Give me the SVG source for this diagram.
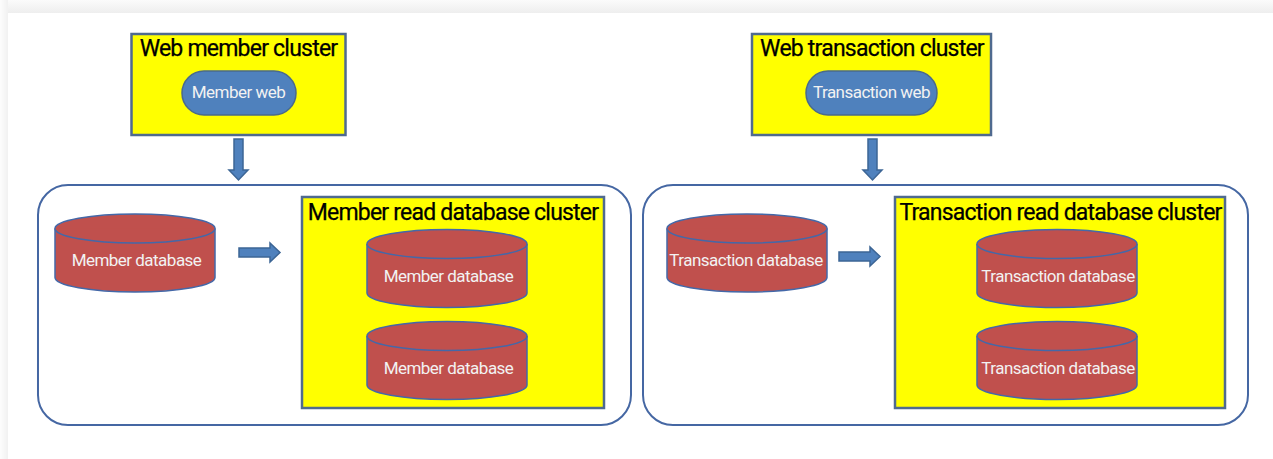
<svg xmlns="http://www.w3.org/2000/svg" width="1273" height="459" viewBox="0 0 1273 459">
<defs>
<linearGradient id="shT" x1="0" y1="0" x2="0" y2="1"><stop offset="0" stop-color="#fbfbfb"/><stop offset="1" stop-color="#eeeeee"/></linearGradient>
<linearGradient id="shL" x1="0" y1="0" x2="1" y2="0"><stop offset="0" stop-color="#fdfdfd"/><stop offset="1" stop-color="#f1f1f1"/></linearGradient>
<g id="cyl">
<path class="db" d="M0 14.500C0 6.500 36 0 80 0S160 6.500 160 14.500V63.500C160 71.500 124 78 80 78S0 71.500 0 63.500Z"/>
<path class="db" d="M0 14.500C0 22.500 36 29 80 29S160 22.500 160 14.500"/>
</g>
</defs>
<style>
text{font-family:Roboto,"Liberation Sans",sans-serif;text-anchor:middle}
.cl{fill:#ffff00;stroke:#4f6a8f;stroke-width:2.500}
.wrap{fill:#ffffff;stroke:#4567a3;stroke-width:2}
.db{fill:#c0504d;stroke:#4468a8;stroke-width:1.500}
.web{fill:#4f81bd;stroke:#4a6a8c;stroke-width:1.500}
.arr{fill:#4f81bd;stroke:#3c6595;stroke-width:1.500}
.t{font-size:23px;letter-spacing:-.78px;fill:#000000;stroke:#000000;stroke-width:.25px}
.l{font-size:17px;letter-spacing:-.52px;fill:#f2f2f2}
</style>
<rect width="1273" height="459" fill="#ffffff"/>
<rect x="0" y="0" width="1273" height="13" fill="url(#shT)"/>
<rect x="0" y="0" width="8" height="459" fill="url(#shL)"/>

<g id="member-group">
<rect class="wrap" x="38" y="185" width="593" height="240" rx="30"/>
</g>
<g id="transaction-group">
<rect class="wrap" x="643" y="185" width="605" height="240" rx="30"/>
</g>

<g id="connectors">
<path class="arr" d="M234 139H243V170H248L238.500 180L229 170H234Z"/>
<path class="arr" d="M868 139H877V170H882L872.500 180L863 170H868Z"/>
<path class="arr" d="M239 248H270V243L280 252.500L270 262V257H239Z"/>
<path class="arr" d="M839 252H870V247L880 256.500L870 266V261H839Z"/>
</g>

<g id="web-member-cluster">
<rect class="cl" x="131.500" y="34" width="214" height="101"/>
<text class="t" x="238.500" y="55.500">Web member cluster</text>
</g>
<g id="member-web">
<rect class="web" x="182" y="71" width="114" height="44" rx="22"/>
<text class="l" x="238.500" y="98">Member web</text>
</g>
<g id="web-transaction-cluster">
<rect class="cl" x="752" y="34" width="239" height="101"/>
<text class="t" x="872" y="55.500">Web transaction cluster</text>
</g>
<g id="transaction-web">
<rect class="web" x="806" y="71" width="131" height="44" rx="22"/>
<text class="l" x="871.500" y="98">Transaction web</text>
</g>

<g id="member-database">
<use href="#cyl" x="55" y="214"/>
<text class="l" x="136.500" y="266">Member database</text>
</g>
<g id="member-read-cluster">
<rect class="cl" x="302" y="197" width="302" height="211"/>
<text class="t" x="453" y="220">Member read database cluster</text>
</g>
<g id="member-read-db-1">
<use href="#cyl" x="367" y="229.500"/>
<text class="l" x="448.500" y="282">Member database</text>
</g>
<g id="member-read-db-2">
<use href="#cyl" x="367" y="321.500"/>
<text class="l" x="448.500" y="373.500">Member database</text>
</g>

<g id="transaction-database">
<use href="#cyl" x="667" y="214"/>
<text class="l" x="746" y="266">Transaction database</text>
</g>
<g id="transaction-read-cluster">
<rect class="cl" x="895" y="197" width="330" height="211"/>
<text class="t" x="1060.500" y="220">Transaction read database cluster</text>
</g>
<g id="transaction-read-db-1">
<use href="#cyl" x="977" y="229.500"/>
<text class="l" x="1058" y="282">Transaction database</text>
</g>
<g id="transaction-read-db-2">
<use href="#cyl" x="977" y="321.500"/>
<text class="l" x="1058" y="373.500">Transaction database</text>
</g>
</svg>
